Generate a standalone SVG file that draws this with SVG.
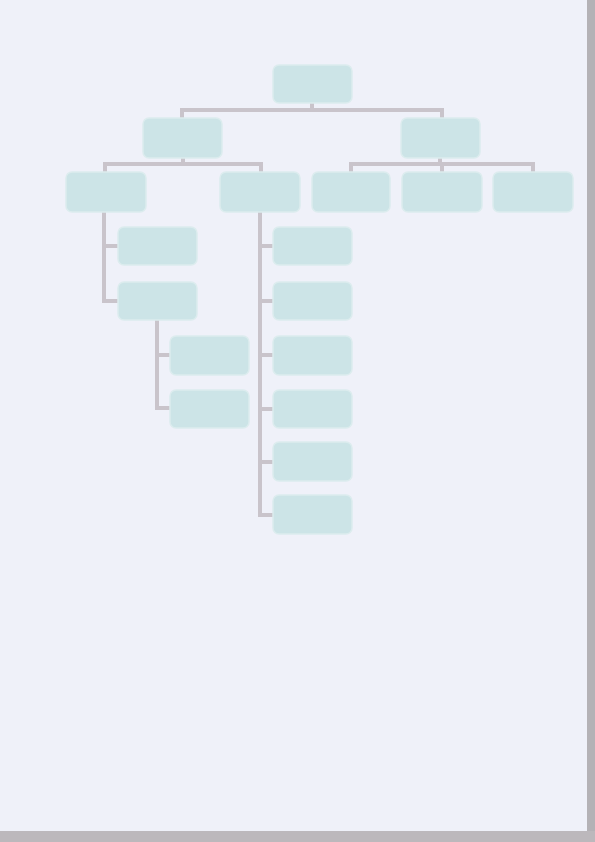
<svg xmlns="http://www.w3.org/2000/svg" width="595" height="842" viewBox="0 0 595 842">
  <style>
    .node rect { fill: #cce4e7; stroke: #dcecee; stroke-width: 1.5; }
    .conn { fill: none; stroke: #c9c4cb; stroke-width: 4; stroke-linecap: square; stroke-linejoin: miter; }
  </style>
  <rect x="0" y="0" width="595" height="842" fill="#eff1f9"/>
  <rect x="587" y="0" width="8" height="842" fill="#b4b2b6"/>
  <rect x="0" y="831" width="595" height="11" fill="#bcb8bc"/>

  <g id="connectors">
    <path class="conn" d="M312 102 V110 M182 118 V110 H442 V118"/>
    <path class="conn" d="M183 158 V164 M105 172 V164 H261 V172"/>
    <path class="conn" d="M440 158 V164 M351 172 V164 H533 V172 M442 164 V172"/>
    <path class="conn" d="M104 212 V301 H118 M104 246 H118"/>
    <path class="conn" d="M157 320 V408 H170 M157 355 H170"/>
    <path class="conn" d="M260 212 V515 H272 M260 246 H272 M260 301 H272 M260 355 H272 M260 409 H272 M260 462 H272"/>
  </g>

  <g id="root" class="node"><rect x="273" y="65" width="79" height="38" rx="6"/></g>
  <g id="l1-left" class="node"><rect x="143" y="118" width="79" height="40" rx="6"/></g>
  <g id="l1-right" class="node"><rect x="401" y="118" width="79" height="40" rx="6"/></g>

  <g id="a" class="node"><rect x="66" y="172" width="80" height="40" rx="6"/></g>
  <g id="b" class="node"><rect x="220" y="172" width="80" height="40" rx="6"/></g>
  <g id="c" class="node"><rect x="312" y="172" width="78" height="40" rx="6"/></g>
  <g id="d" class="node"><rect x="402" y="172" width="80" height="40" rx="6"/></g>
  <g id="e" class="node"><rect x="493" y="172" width="80" height="40" rx="6"/></g>

  <g id="a1" class="node"><rect x="118" y="227" width="79" height="38" rx="6"/></g>
  <g id="a2" class="node"><rect x="118" y="282" width="79" height="38" rx="6"/></g>
  <g id="a2a" class="node"><rect x="170" y="336" width="79" height="39" rx="6"/></g>
  <g id="a2b" class="node"><rect x="170" y="390" width="79" height="38" rx="6"/></g>

  <g id="b1" class="node"><rect x="273" y="227" width="79" height="38" rx="6"/></g>
  <g id="b2" class="node"><rect x="273" y="282" width="79" height="38" rx="6"/></g>
  <g id="b3" class="node"><rect x="273" y="336" width="79" height="39" rx="6"/></g>
  <g id="b4" class="node"><rect x="273" y="390" width="79" height="38" rx="6"/></g>
  <g id="b5" class="node"><rect x="273" y="442" width="79" height="39" rx="6"/></g>
  <g id="b6" class="node"><rect x="273" y="495" width="79" height="39" rx="6"/></g>
</svg>
